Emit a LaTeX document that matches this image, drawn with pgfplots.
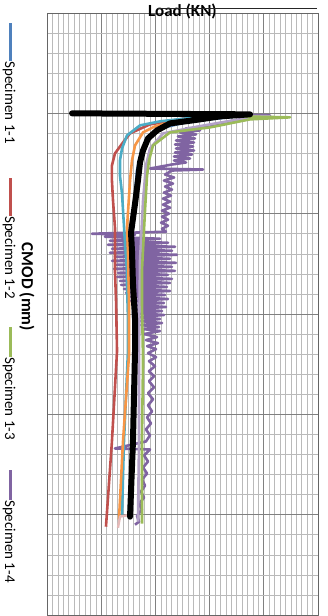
\documentclass[border=0pt]{standalone}
\usepackage{fontspec}
\setmainfont{Carlito}
\usepackage{pgfplots}
\pgfplotsset{compat=1.18}
\definecolor{sBlue}{HTML}{4F81BD}
\definecolor{sRed}{HTML}{C0504D}
\definecolor{sGreen}{HTML}{9BBB59}
\definecolor{sPurple}{HTML}{8064A2}
\definecolor{sCyan}{HTML}{4BACC6}
\definecolor{sOrange}{HTML}{F79646}
\definecolor{sLav}{HTML}{B3A2C7}
\definecolor{sPink}{HTML}{E6B9B8}
\begin{document}
\begin{tikzpicture}
\begin{axis}[
  scale only axis, width=271pt, height=602pt,
  xmin=0, xmax=25, ymin=-1, ymax=5, y dir=reverse,
  xtick={0,5,...,25}, ytick={-1,0,...,5},
  minor x tick num=9, minor y tick num=4,
  grid=both,
  major grid style={draw=black!50, line width=0.7pt},
  minor grid style={draw=black!27, line width=0.5pt},
  xticklabels={}, yticklabels={},
  major tick length=0pt, minor tick length=0pt,
  axis line style={draw=black!60, line width=0.8pt},
  title={Load (KN)},
  title style={at={(axis description cs:0.5,1)}, anchor=center, yshift=-4pt, font=\bfseries\fontsize{17}{20}\selectfont},
  ylabel={CMOD (mm)},
  ylabel style={at={(axis description cs:-0.074,0.545)}, anchor=center, rotate=180, font=\bfseries\fontsize{17}{20}\selectfont},
  line join=round,
]
% Specimen 1-4 (noisy)
\addplot[sPurple, line width=2.6pt] coordinates {
(2.31,0) (20.57,0.02) (17.80,0.06) (15.50,0.11) (14.58,0.14)
(12.82,0.15) (14.11,0.17) (12.27,0.19) (13.75,0.21) (12.08,0.23) (13.65,0.25) (11.90,0.27) (13.56,0.29) (11.81,0.31) (13.47,0.33) (11.90,0.35) (13.56,0.37) (11.81,0.39) (13.38,0.41) (11.72,0.43) (13.19,0.45) (11.72,0.47) (12.82,0.49) (11.53,0.51)
(9.50,0.55) (14.39,0.56) (11.53,0.57)
(10.89,0.61) (11.72,0.64) (10.79,0.67) (11.62,0.70) (10.89,0.73) (11.53,0.76) (10.79,0.79) (11.44,0.82) (10.70,0.85) (11.35,0.88) (10.70,0.91) (11.35,0.94) (10.61,0.97) (11.25,1.00) (10.61,1.03) (11.16,1.06) (10.52,1.09) (11.16,1.12) (10.61,1.15) (10.98,1.18)
(4.15,1.20) (8.12,1.21)
(5.35,1.23) (10.42,1.25) (5.81,1.27) (11.16,1.29) (5.63,1.31) (11.81,1.33) (6.00,1.35) (11.53,1.37) (5.81,1.39) (11.99,1.41) (6.27,1.43) (11.35,1.45) (6.00,1.47) (11.90,1.49) (6.37,1.51) (11.53,1.53) (6.18,1.55) (11.81,1.57) (6.55,1.59) (11.16,1.61) (6.46,1.63) (11.53,1.65) (6.73,1.67) (11.35,1.69) (6.83,1.71) (11.07,1.73) (7.10,1.75) (11.35,1.77) (7.29,1.79) (10.89,1.81) (7.47,1.83) (11.16,1.85) (7.66,1.87) (10.79,1.89) (7.84,1.91) (10.98,1.93) (8.03,1.95) (10.61,1.97) (8.21,1.99) (10.79,2.01) (8.39,2.03) (10.42,2.05) (8.58,2.07) (10.61,2.09) (8.67,2.11) (10.33,2.13) (8.86,2.15) (10.42,2.17) (8.95,2.20) (10.15,2.23) (9.13,2.26) (10.24,2.29) (9.23,2.32) (10.06,2.35) (9.32,2.39) (10.06,2.43) (9.41,2.47) (9.96,2.52) (9.41,2.57) (9.87,2.62) (9.41,2.67) (9.87,2.73) (9.32,2.79) (9.78,2.85) (9.32,2.91) (9.69,2.97) (9.23,3.03) (9.59,3.09) (9.13,3.15) (9.50,3.21) (9.13,3.27)
(6.27,3.34) (9.50,3.35)
(8.95,3.41) (9.32,3.47) (8.86,3.53) (9.23,3.59) (8.76,3.65) (9.04,3.71) (8.67,3.77) (8.95,3.83) (8.49,3.89) (8.76,3.95) (8.30,4.01) (8.49,4.07) (8.12,4.10)};
% lavender
\addplot[sLav, line width=2.6pt] coordinates {
(2.31,0) (20.57,0.03) (17.16,0.07) (13.47,0.14) (10.70,0.20) (9.50,0.35) (9.13,0.52) (8.86,0.87) (8.58,1.47) (8.49,2.37) (8.49,3.27) (8.39,4.07)};
% Specimen 1-3
\addplot[sGreen, line width=2.6pt] coordinates {
(2.31,0) (22.42,0.04) (18.73,0.06) (15.04,0.14) (11.35,0.19) (9.78,0.32) (9.41,0.47) (9.23,0.62) (9.04,0.97) (8.76,1.57) (8.76,1.87) (8.86,2.47) (8.76,3.27) (8.76,4.09)};
% Specimen 1-2
\addplot[sRed, line width=2.6pt] coordinates {
(2.31,0) (17.34,0.01) (12.73,0.05) (9.50,0.11) (7.66,0.20) (7.01,0.29) (6.27,0.40) (5.99,0.52) (5.99,0.67) (6.09,0.87) (6.27,1.14) (6.27,1.57) (6.37,1.87) (6.46,2.37) (5.99,3.27) (5.44,4.12)};
% cyan
\addplot[sCyan, line width=2.6pt] coordinates {
(2.31,0) (17.80,0.01) (12.92,0.05) (10.42,0.08) (8.58,0.12) (7.38,0.22) (6.92,0.35) (6.73,0.47) (6.73,0.62) (6.92,0.80) (7.20,1.30) (7.38,1.57) (7.38,1.70) (7.47,2.04) (7.47,2.37) (7.10,3.27) (6.92,4.00)};
% orange
\addplot[sOrange, line width=2.6pt] coordinates {
(2.31,0) (18.27,0.01) (14.11,0.05) (11.35,0.09) (9.96,0.13) (8.86,0.19) (8.12,0.32) (7.84,0.47) (7.66,0.67) (7.38,1.14) (7.47,1.37) (7.56,1.87) (7.56,2.42) (7.01,3.27) (6.64,4.05)};
% pink bit
\addplot[sPink, line width=2.4pt] coordinates {(6.55,4.13) (6.73,4.02) (7.75,4.00)};
% Specimen 1-1
\addplot[sBlue, line width=2.6pt] coordinates {
(2.31,0) (18.54,0.02) (13.19,0.08) (10.42,0.15) (9.23,0.25) (8.67,0.39) (8.30,0.57) (8.03,0.92) (7.84,1.27) (7.93,1.87) (8.03,2.47) (7.84,3.27) (7.56,4.02)};
% black average
\addplot[black, line width=6pt, line cap=round] coordinates {
(2.31,0) (18.73,0.01) (16.0,0.03) (13.47,0.07) (11.35,0.10) (10.15,0.17) (9.32,0.25) (8.86,0.37) (8.58,0.49) (8.39,0.67) (8.12,0.90) (7.75,1.19) (7.84,1.37) (7.93,1.70) (8.12,2.04) (8.12,2.37) (7.93,3.27) (7.66,4.02)};
\coordinate (SW) at (axis description cs:0,0);
\coordinate (NE) at (axis description cs:1,1);
\coordinate (LA) at (axis description cs:0.41,1);
\coordinate (LB) at (axis description cs:0.996,1);
\coordinate (G1) at (axis description cs:-0.14,0.983);
\coordinate (G2) at (axis description cs:-0.14,0.726);
\coordinate (G3) at (axis description cs:-0.14,0.478);
\coordinate (G4) at (axis description cs:-0.14,0.241);
\end{axis}
\draw[black!85, line width=0.7pt] ([yshift=4.5pt]LA) -- ([yshift=4.5pt]LB);
\begin{scope}[every node/.style={rotate=-90, anchor=west, inner sep=0pt, font=\fontsize{15}{18}\selectfont}]
\node at (G1) {{\color{sBlue}\rule[0.26em]{38pt}{2.6pt}}Specimen 1-1};
\node at (G2) {{\color{sRed}\rule[0.26em]{38pt}{2.6pt}}Specimen 1-2};
\node at (G3) {{\color{sGreen}\rule[0.26em]{30pt}{2.6pt}}Specimen 1-3};
\node at (G4) {{\color{sPurple}\rule[0.26em]{30pt}{2.6pt}}Specimen 1-4};
\end{scope}
\pgfresetboundingbox
\path ([xshift=-47pt,yshift=-1pt]SW) rectangle ([xshift=9pt,yshift=13pt]NE);
\end{tikzpicture}
\end{document}
